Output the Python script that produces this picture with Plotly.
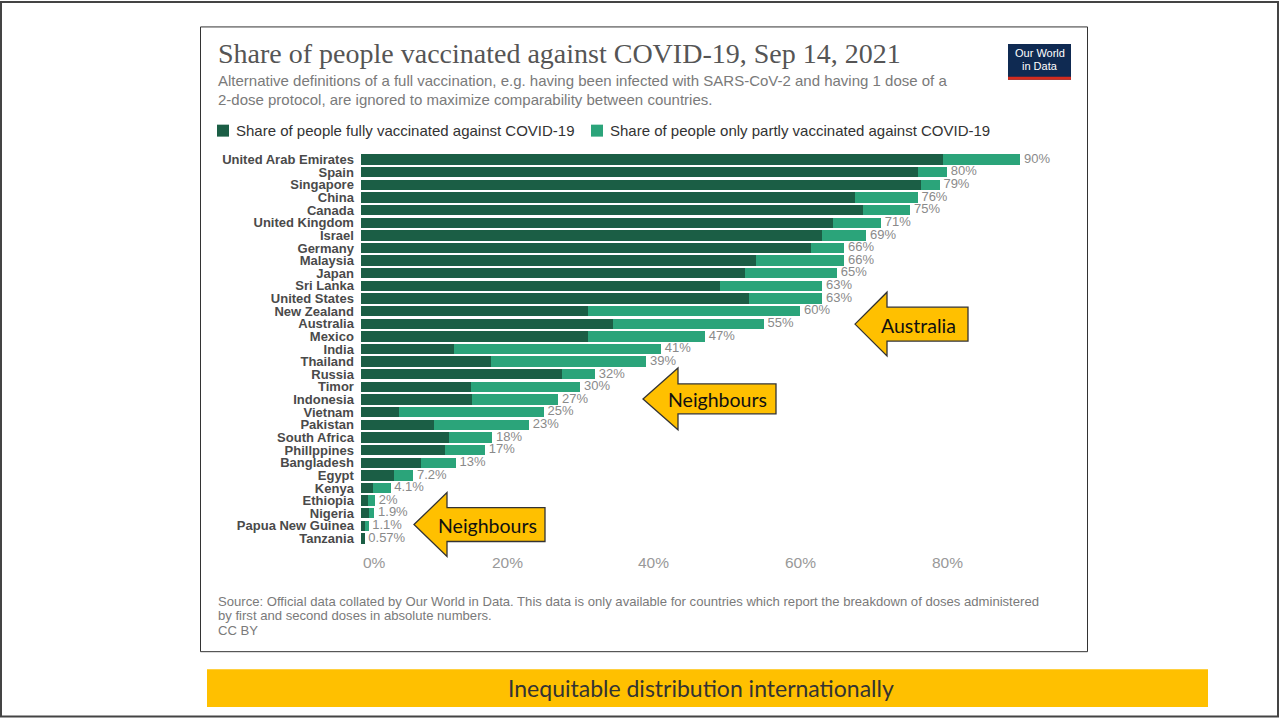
import plotly.graph_objects as go

# ---------------- data ----------------
countries = ["United Arab Emirates", "Spain", "Singapore", "China", "Canada",
             "United Kingdom", "Israel", "Germany", "Malaysia", "Japan",
             "Sri Lanka", "United States", "New Zealand", "Australia", "Mexico",
             "India", "Thailand", "Russia", "Timor", "Indonesia", "Vietnam",
             "Pakistan", "South Africa", "Phillppines", "Bangladesh", "Egypt",
             "Kenya", "Ethiopia", "Nigeria", "Papua New Guinea", "Tanzania"]
fully = [79.5, 76, 76.5, 67.5, 68.5, 64.5, 63, 61.5, 54, 52.5,
         49, 53, 31, 34.5, 31, 12.8, 17.8, 27.5, 15, 15.2, 5.3,
         10, 12, 11.5, 8.3, 4.6, 1.7, 1.0, 1.1, 0.6, 0.57]
total = [90, 80, 79, 76, 75, 71, 69, 66, 66, 65,
         63, 63, 60, 55, 47, 41, 39, 32, 30, 27, 25,
         23, 18, 17, 13, 7.2, 4.1, 2, 1.9, 1.1, 0.57]
total_labels = ["90%", "80%", "79%", "76%", "75%", "71%", "69%", "66%", "66%", "65%",
                "63%", "63%", "60%", "55%", "47%", "41%", "39%", "32%", "30%", "27%", "25%",
                "23%", "18%", "17%", "13%", "7.2%", "4.1%", "2%", "1.9%", "1.1%", "0.57%"]
partial = [round(t - f, 3) for t, f in zip(total, fully)]

x_ticks = [0, 20, 40, 60, 80]
x_tick_labels = ["0%", "20%", "40%", "60%", "80%"]

series_names = ["Share of people fully vaccinated against COVID-19",
                "Share of people only partly vaccinated against COVID-19"]
DARK = "#1b5e45"
LIGHT = "#2ba47a"

W, H = 1279, 719


def px(x):
    return x / W


def py(y):
    return 1 - y / H


fig = go.Figure()
fig.add_trace(go.Bar(y=countries, x=fully, orientation="h", marker_color=DARK,
                     marker_line_width=0, name=series_names[0], showlegend=False))
fig.add_trace(go.Bar(y=countries, x=partial, orientation="h", marker_color=LIGHT,
                     marker_line_width=0, name=series_names[1], showlegend=False))
fig.add_trace(go.Scatter(y=countries, x=total, mode="text", text=total_labels,
                         texttemplate=" %{text}", textposition="middle right",
                         textfont=dict(family="Liberation Sans", size=13, color="#8a8a8a"),
                         showlegend=False, cliponaxis=False, hoverinfo="skip"))

# axis geometry (pixel based)
x0_px = 360.5
scale = 7.333  # px per percent
xmax = 95
x_dom = [px(x0_px), px(x0_px + xmax * scale)]
row_top, row_bot = 159, 539
band = (row_bot - row_top) / (len(countries) - 1)
y_dom = [py(row_bot + band / 2), py(row_top - band / 2)]

fig.update_layout(
    width=W, height=H,
    margin=dict(l=0, r=0, t=0, b=0),
    paper_bgcolor="white", plot_bgcolor="white",
    barmode="stack", bargap=0.18,
    xaxis=dict(domain=x_dom, range=[0, xmax], showgrid=False, zeroline=False,
               showticklabels=False, fixedrange=True),
    yaxis=dict(domain=y_dom, range=[len(countries) - 0.5, -0.5], showgrid=False, zeroline=False,
               tickmode="array", tickvals=countries, ticktext=countries,
               ticks="outside", ticklen=3, tickcolor="white",
               tickfont=dict(family="Liberation Sans", size=13, color="#4a4a4a", weight="bold")),
)

shapes = []
ann = []

# outer slide border
shapes.append(dict(type="rect", xref="paper", yref="paper", x0=px(1), x1=px(1278),
                   y0=py(717.5), y1=py(1), line=dict(color="#444444", width=2)))
# chart frame
shapes.append(dict(type="rect", xref="paper", yref="paper", x0=px(200.5), x1=px(1087.5),
                   y0=py(652.5), y1=py(26), line=dict(color="#333333", width=1)))

# title / subtitle
ann.append(dict(text="Share of people vaccinated against COVID-19, Sep 14, 2021",
                x=px(216), y=py(35), xanchor="left", yanchor="top",
                font=dict(family="Liberation Serif", size=28, color="#555555")))
ann.append(dict(text="Alternative definitions of a full vaccination, e.g. having been infected with SARS-CoV-2 and having 1 dose of a",
                x=px(216), y=py(80), xanchor="left", yanchor="middle",
                font=dict(family="Liberation Sans", size=15, color="#7a7a7a")))
ann.append(dict(text="2-dose protocol, are ignored to maximize comparability between countries.",
                x=px(216), y=py(99), xanchor="left", yanchor="middle",
                font=dict(family="Liberation Sans", size=15, color="#7a7a7a")))

# OWID logo
shapes.append(dict(type="rect", xref="paper", yref="paper", x0=px(1008), x1=px(1071),
                   y0=py(79), y1=py(43), fillcolor="#0f2a52", line=dict(width=0)))
shapes.append(dict(type="rect", xref="paper", yref="paper", x0=px(1008), x1=px(1071),
                   y0=py(79), y1=py(76), fillcolor="#d42b1e", line=dict(width=0)))
ann.append(dict(text="Our World", x=px(1039.5), y=py(52), xanchor="center", yanchor="middle",
                font=dict(family="Liberation Sans", size=11, color="white")))
ann.append(dict(text="in Data", x=px(1039.5), y=py(65), xanchor="center", yanchor="middle",
                font=dict(family="Liberation Sans", size=11, color="white")))

# legend
legend_x = [217, 591]
for lx, name, col in zip(legend_x, series_names, [DARK, LIGHT]):
    shapes.append(dict(type="rect", xref="paper", yref="paper", x0=px(lx), x1=px(lx + 12),
                       y0=py(136), y1=py(124), fillcolor=col, line=dict(width=0)))
    ann.append(dict(text=name, x=px(lx + 17), y=py(130), xanchor="left", yanchor="middle",
                    font=dict(family="Liberation Sans", size=15, color="#333333")))

# x tick labels
for v, lab in zip(x_ticks, x_tick_labels):
    ann.append(dict(text=lab, x=v, xref="x", y=py(563), yref="paper",
                    xanchor="left" if v == 0 else "center", yanchor="middle",
                    font=dict(family="Liberation Sans", size=15.5, color="#999999")))

# footer
footer = ["Source: Official data collated by Our World in Data. This data is only available for countries which report the breakdown of doses administered",
          "by first and second doses in absolute numbers.",
          "CC BY"]
for i, line in enumerate(footer):
    ann.append(dict(text=line, x=px(216), y=py(602 + i * 14.5), xanchor="left", yanchor="middle",
                    font=dict(family="Liberation Sans", size=13.1, color="#7a7a7a")))


# arrows (left-pointing block arrows)
def arrow(tip_x, tip_y, head_x, head_half, body_half, right_x, label):
    pts = [(tip_x, tip_y), (head_x, tip_y - head_half), (head_x, tip_y - body_half),
           (right_x, tip_y - body_half), (right_x, tip_y + body_half),
           (head_x, tip_y + body_half), (head_x, tip_y + head_half)]
    path = "M " + " L ".join(f"{px(a):.5f},{py(b):.5f}" for a, b in pts) + " Z"
    shapes.append(dict(type="path", xref="paper", yref="paper", path=path,
                       fillcolor="#ffc000", line=dict(color="#333333", width=1.3)))
    ann.append(dict(text=label, x=px((head_x + right_x) / 2 - 9), y=py(tip_y + 1),
                    xanchor="center", yanchor="middle",
                    font=dict(family="Lato", size=19.5, color="#111111")))


arrow(855, 324, 887, 32, 17, 968, "Australia")
arrow(643, 399, 678, 31, 15, 776, "Neighbours")
arrow(414, 525, 447, 32, 17, 545, "Neighbours")

# bottom banner
shapes.append(dict(type="rect", xref="paper", yref="paper", x0=px(207), x1=px(1208),
                   y0=py(708), y1=py(670), fillcolor="#ffc000", line=dict(width=0)))
ann.append(dict(text="Inequitable distribution internationally", x=px(700.5), y=py(689),
                xanchor="center", yanchor="middle",
                font=dict(family="Lato", size=23, color="#333333")))

for a in ann:
    a.setdefault("xref", "paper")
    a.setdefault("yref", "paper")
    a["showarrow"] = False

fig.update_layout(shapes=shapes, annotations=ann)
fig.write_html("out.html")
